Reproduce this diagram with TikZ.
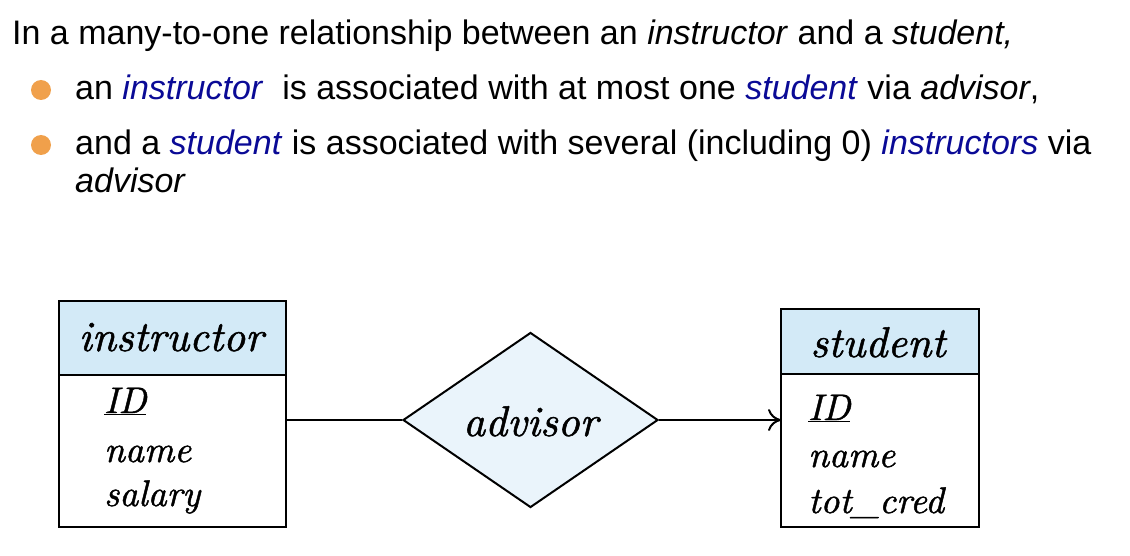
\documentclass[tikz,border=0pt]{standalone}
\usepackage{fontspec}
\setmainfont{Latin Modern Roman}
\newfontfamily\arialfont{Liberation Sans}
\newfontface\erit{lmroman10-italic.otf}[FakeBold=1.2]
\usetikzlibrary{shapes.geometric,arrows.meta}
\definecolor{hdrblue}{HTML}{D3EAF7}
\definecolor{relblue}{HTML}{EAF4FB}
\definecolor{kwblue}{HTML}{0A0A96}
\definecolor{bulletorange}{HTML}{F0A04B}
\tikzset{
  sanstext/.style={anchor=base west, inner sep=0pt, font=\arialfont\fontsize{34}{34}\selectfont},
  bulletdot/.style={circle, fill=bulletorange, minimum size=20pt, inner sep=0pt},
  hdrbox/.style={draw, line width=2pt, fill=hdrblue},
  bodybox/.style={draw, line width=2pt, fill=white},
  hdrtext/.style={anchor=base, inner sep=0pt, font=\erit\fontsize{43}{43}\selectfont},
  attrtext/.style={anchor=base west, inner sep=0pt, font=\erit\fontsize{37}{37}\selectfont},
  relshape/.style={diamond, draw, line width=2pt, fill=relblue, aspect=1.457, minimum width=255pt, minimum height=175pt, inner sep=0pt},
  reltext/.style={anchor=base, inner sep=0pt, font=\erit\fontsize{43}{43}\selectfont},
  conn/.style={line width=2pt}
}
\newcommand{\kw}[1]{\textcolor{kwblue}{\textit{#1}}}
\begin{document}
\begin{tikzpicture}[x=1pt,y=-1pt]
\useasboundingbox (0,0) rectangle (1130,556);
% text
\node[sanstext] (t1) at (12,45) {In a many-to-one relationship between an \textit{instructor} and a \textit{student,}};
\node[bulletdot] (b1) at (41,90) {};
\node[sanstext] (t2) at (75,100) {an \kw{instructor}\ \ is associated with at most one \kw{student} via \textit{advisor},};
\node[bulletdot] (b2) at (41,145) {};
\node[sanstext] (t3) at (75,155) {and a \kw{student} is associated with several (including 0) \kw{instructors} via};
\node[sanstext] (t4) at (75,193) {\textit{advisor}};
% instructor entity
\draw[hdrbox] (59,301) rectangle (286,375);
\draw[bodybox] (59,375) rectangle (286,527);
\node[hdrtext] (ih) at (171,351) {instructor};
\node[attrtext] (ia1) at (104,413) {\underline{ID}};
\node[attrtext] (ia2) at (104,462) {name};
\node[attrtext] (ia3) at (104,506) {salary};
\coordinate (iR) at (286,420);
% student entity
\draw[hdrbox] (781,309) rectangle (979,374);
\draw[bodybox] (781,374) rectangle (979,527);
\node[hdrtext] (sh) at (878,357) {student};
\node[attrtext] (sa1) at (808,420) {\underline{ID}};
\node[attrtext] (sa2) at (808,467) {name};
\node[attrtext] (sa3) at (808,513) {tot\_cred};
\coordinate (sL) at (781,420);
% relationship
\node[relshape] (adv) at (530.5,420) {};
\node[reltext] (advt) at (530.5,436) {advisor};
% connectors
\draw[conn] (iR) -- (adv.west);
\draw[conn, -{To[length=13pt,width=22pt]}] (adv.east) -- (sL);
\end{tikzpicture}
\end{document}
